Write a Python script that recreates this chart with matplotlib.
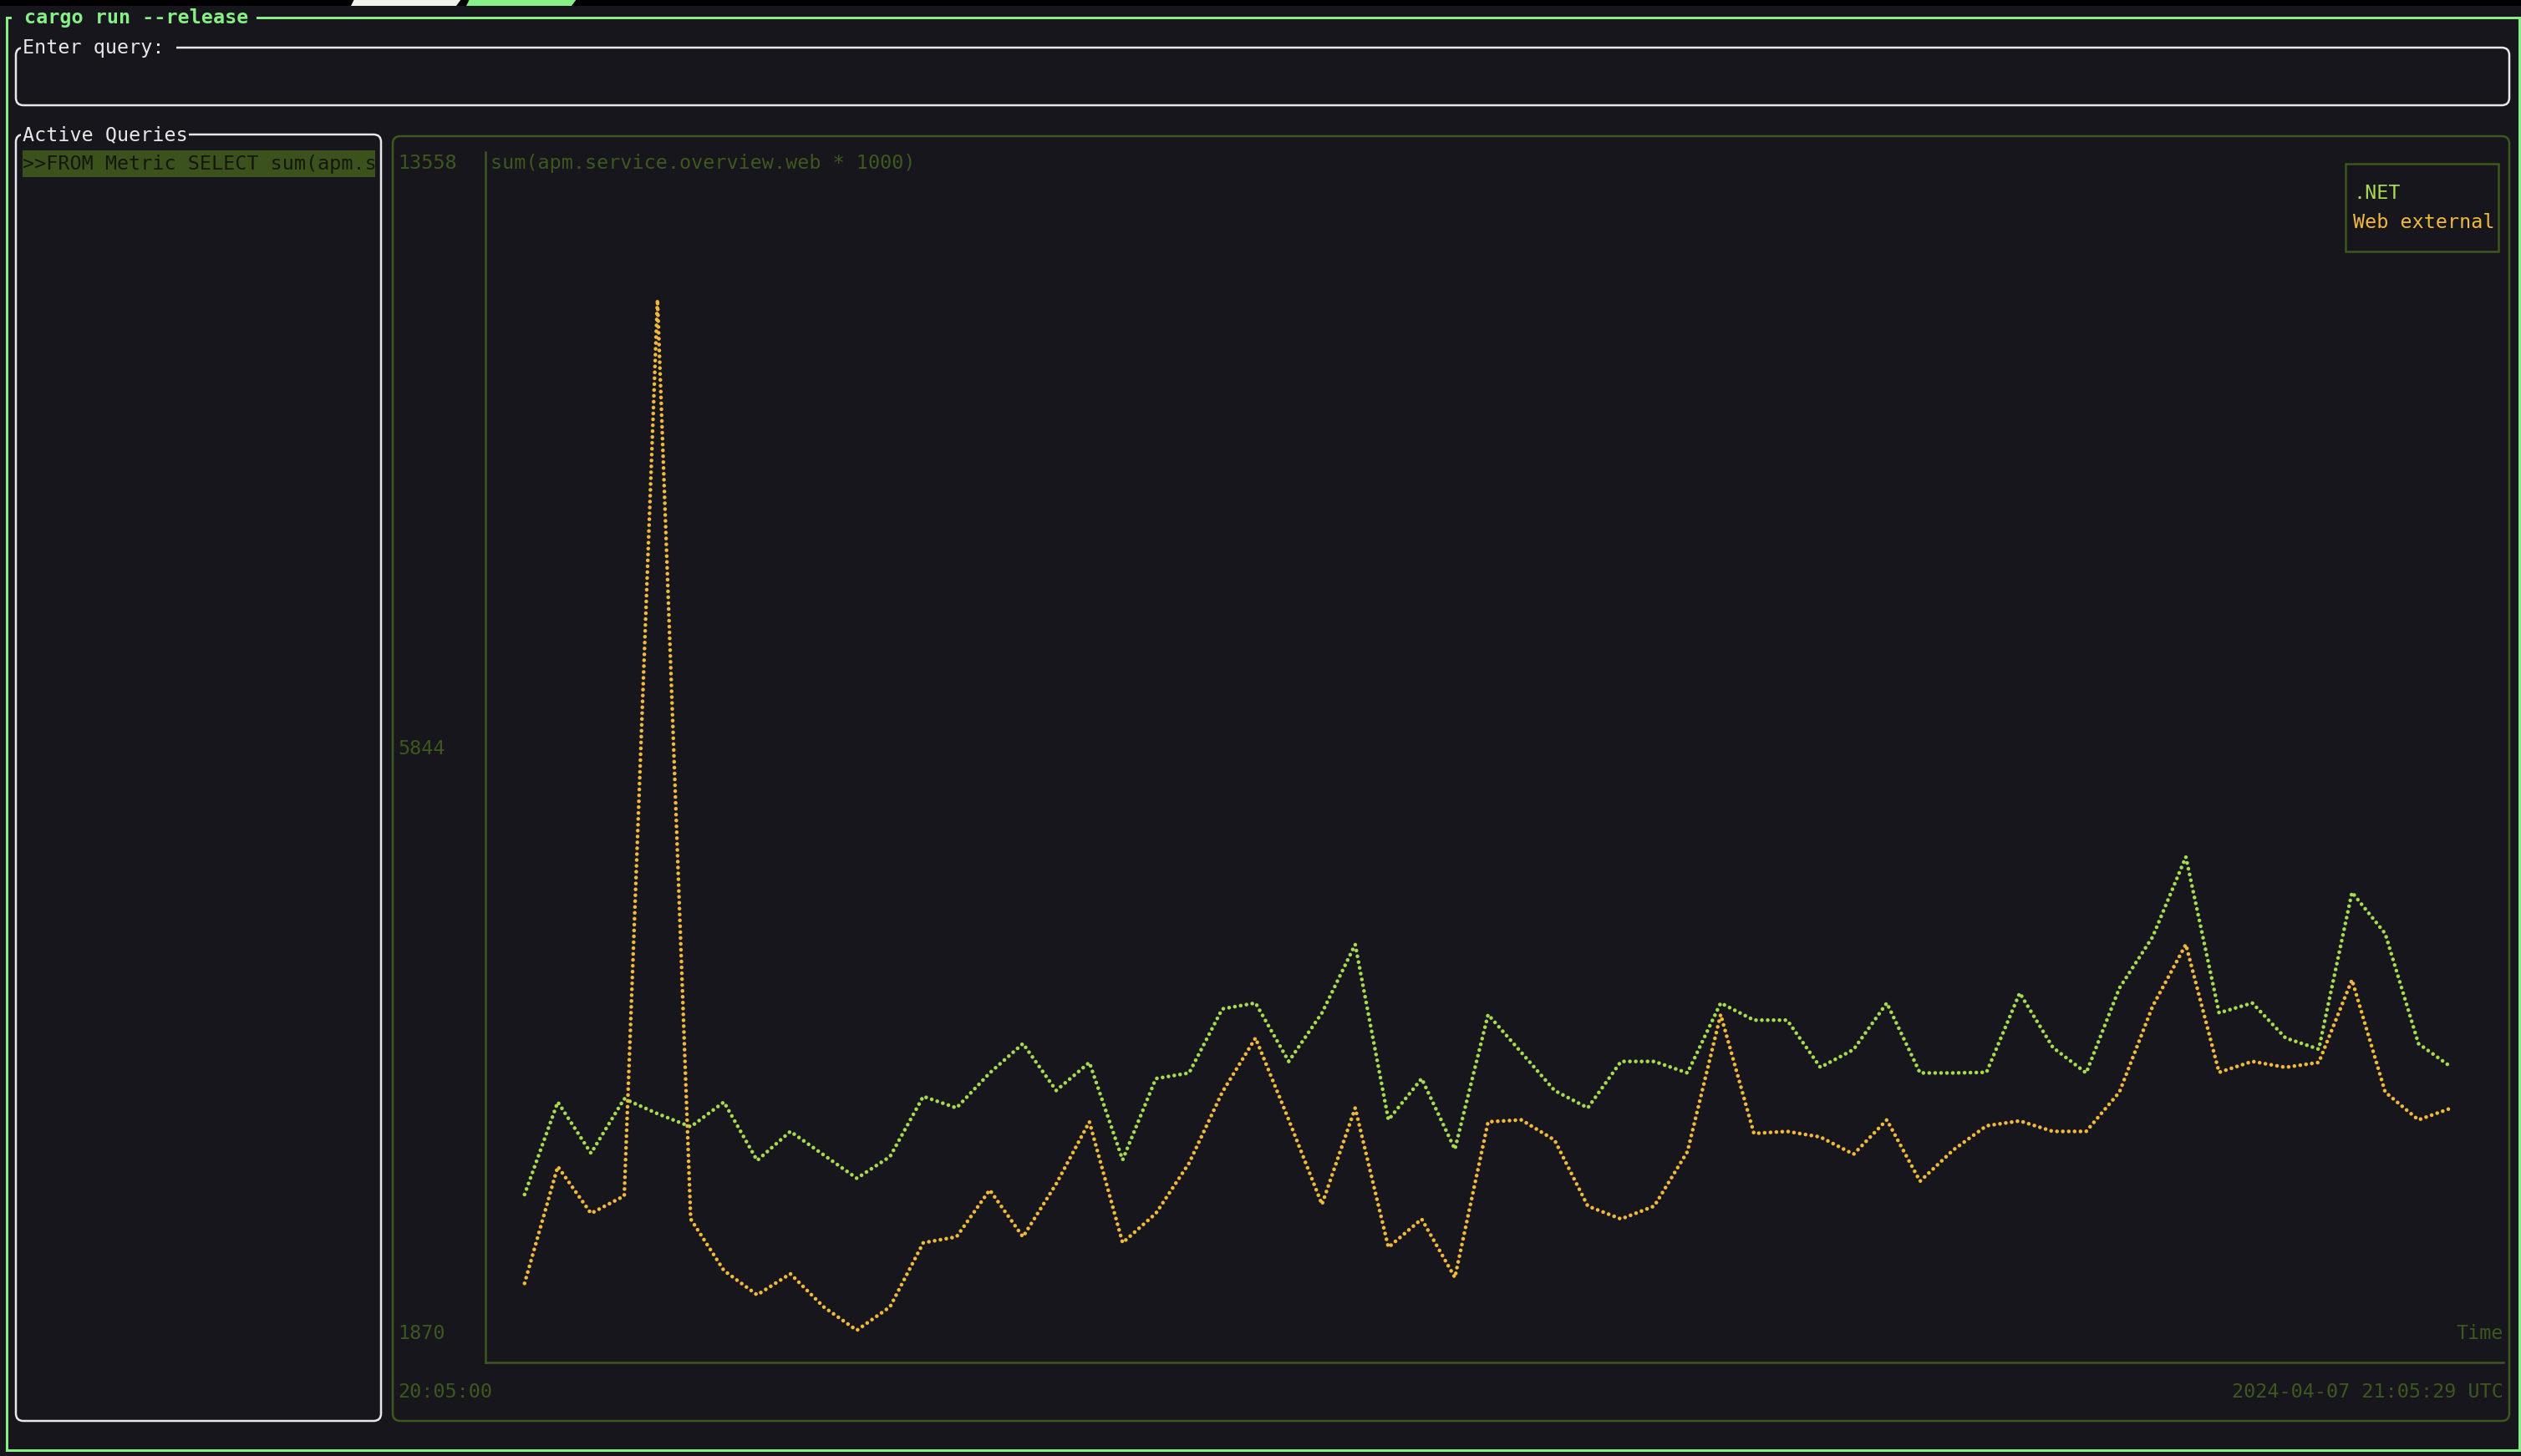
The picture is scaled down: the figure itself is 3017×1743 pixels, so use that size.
import matplotlib
matplotlib.use("Agg")
import matplotlib.pyplot as plt
from matplotlib.patches import FancyBboxPatch, Rectangle, Polygon

# ---------------- data ----------------
minutes = list(range(1, 60))  # minutes after 20:05:00
net = [3341, 4248, 3746, 4280, 4134, 4005, 4248, 3675, 3960, 3730, 3500, 3713, 4303, 4190,
       4533, 4821, 4361, 4636, 3681, 4478, 4533, 5161, 5219, 4646, 5122, 5793, 4073, 4478,
       3785, 5106, 4734, 4361, 4190, 4646, 4646, 4533, 5219, 5051, 5051, 4588, 4763, 5219,
       4533, 4533, 4539, 5317, 4782, 4533, 5365, 5867, 6651, 5122, 5219, 4876, 4766, 6304,
       5899, 4821, 4588]
web_external = [2470, 3616, 3156, 3328, 12114, 3101, 2596, 2357, 2564, 2240, 2010, 2240, 2868,
                2926, 3386, 2926, 3445, 4054, 2868, 3156, 3649, 4345, 4876, 4073, 3244, 4190,
                2823, 3101, 2528, 4054, 4073, 3875, 3228, 3101, 3228, 3762, 5106, 3940, 3960,
                3905, 3736, 4073, 3471, 3778, 4015, 4063, 3960, 3960, 4345, 5187, 5793, 4539,
                4646, 4588, 4636, 5446, 4345, 4073, 4190]
series_names = [".NET", "Web external"]
y_bounds = [1870, 13558]
y_labels = ["1870", "5844", "13558"]
x_span_minutes = 60 + 29 / 60.0
x_labels = ["20:05:00", "2024-04-07 21:05:29 UTC"]
chart_title = "sum(apm.service.overview.web * 1000)"
query_row = ">>FROM Metric SELECT sum(apm.s"

# ---------------- style ----------------
W, H, DPI = 3018, 1744, 100
BG = "#16161c"
GREEN = "#a6da50"
YELLOW = "#f0b93c"
OLIVE = "#3d581e"
BRIGHT = "#86ef86"
WHITE = "#e8e8e8"
FONT = "DejaVu Sans Mono"
FS = 16.8


def pt(px):
    return px * 72.0 / DPI


fig = plt.figure(figsize=(W / DPI - 1e-6, H / DPI - 1e-6), dpi=DPI, facecolor=BG)
ax0 = fig.add_axes([0, 0, 1, 1])
ax0.set_xlim(0, W)
ax0.set_ylim(H, 0)
ax0.axis("off")
ax0.set_facecolor(BG)

# top tab strip
ax0.add_patch(Rectangle((0, 0), W, 8, fc="#000000", ec="none", zorder=1))
ax0.add_patch(Polygon([(424, 0), (552, 0), (546, 8), (420, 8)], closed=True, fc="#f2f2ec", ec="none", zorder=2))
ax0.add_patch(Polygon([(562, 0), (690, 0), (684, 8), (558, 8)], closed=True, fc=BRIGHT, ec="none", zorder=2))


def frame(x0, y0, x1, y1, color, lw=2.5, rounded=True):
    style = "round,pad=0,rounding_size=9" if rounded else "square,pad=0"
    ax0.add_patch(FancyBboxPatch((x0, y0), x1 - x0, y1 - y0, boxstyle=style,
                                 fc="none", ec=color, lw=pt(lw), zorder=2))


def title(x, y, s, color, cover=(0, 0), bold=False):
    ax0.add_patch(Rectangle((cover[0], y - 6), cover[1] - cover[0], 12, fc=BG, ec="none", zorder=3))
    ax0.text(x, y, s, color=color, fontsize=FS, family=FONT, va="center", ha="left",
             fontweight="bold" if bold else "normal", zorder=4)


# outer frame
frame(8, 22, 3015, 1737, BRIGHT, lw=3, rounded=False)
title(29, 22, "cargo run --release", BRIGHT, cover=(14, 307), bold=True)

# query input box
frame(19, 58, 3003, 127, WHITE)
title(27, 58, "Enter query:", WHITE, cover=(25, 211))

# active queries box
frame(19, 162, 456, 1702, WHITE)
title(27, 162, "Active Queries", WHITE, cover=(25, 226))
ax0.add_patch(Rectangle((27, 181), 422, 32, fc="#3b521d", ec="none", zorder=3))
ax0.text(27, 197, query_row, color="#15170f", fontsize=FS, family=FONT, va="center", ha="left",
         zorder=4)

# chart frame
frame(470, 164, 3003, 1702, OLIVE)

# axes lines
ax0.plot([581, 581], [183, 1632], color=OLIVE, lw=pt(2.5), zorder=2)
ax0.plot([581, 2996], [1632, 1632], color=OLIVE, lw=pt(2.5), zorder=2)

# y labels, evenly spread over rows
row_top, row_bot = 196, 1597
for i, lab in enumerate(y_labels):
    yy = row_bot - (row_bot - row_top) * i / (len(y_labels) - 1)
    ax0.text(476, yy, lab, color=OLIVE, fontsize=FS, family=FONT, va="center", ha="left", zorder=4)

ax0.text(587, 196, chart_title, color=OLIVE, fontsize=FS, family=FONT, va="center", ha="left", zorder=4)
ax0.text(2996, 1597, "Time", color=OLIVE, fontsize=FS, family=FONT, va="center", ha="right", zorder=4)
ax0.text(476, 1667, x_labels[0], color=OLIVE, fontsize=FS, family=FONT, va="center", ha="left", zorder=4)
ax0.text(2996, 1667, x_labels[1], color=OLIVE, fontsize=FS, family=FONT, va="center", ha="right", zorder=4)

# legend
ax0.add_patch(Rectangle((2807, 197), 183, 105, fc=BG, ec=OLIVE, lw=pt(2.5), zorder=5))
ax0.text(2816, 232, series_names[0], color=GREEN, fontsize=FS, family=FONT, va="center", ha="left", zorder=6)
ax0.text(2816, 267, series_names[1], color=YELLOW, fontsize=FS, family=FONT, va="center", ha="left", zorder=6)

# data axes
gx0, gx1 = 588, 2993
gy0, gy1 = 183.5, 1610.6
ax = fig.add_axes([gx0 / W, 1 - gy1 / H, (gx1 - gx0) / W, (gy1 - gy0) / H])
ax.set_xlim(0, x_span_minutes)
ax.set_ylim(*y_bounds)
ax.axis("off")
ax.patch.set_alpha(0)

dot_lw = pt(4.6)
ax.plot(minutes, net, color=GREEN, lw=dot_lw, ls=(0, (0.01, 1.52)),
        dash_capstyle="round", clip_on=False, zorder=3)
ax.plot(minutes, web_external, color=YELLOW, lw=dot_lw, ls=(0, (0.01, 1.52)),
        dash_capstyle="round", clip_on=False, zorder=4)

fig.savefig("out.png", dpi=DPI, facecolor=BG)
